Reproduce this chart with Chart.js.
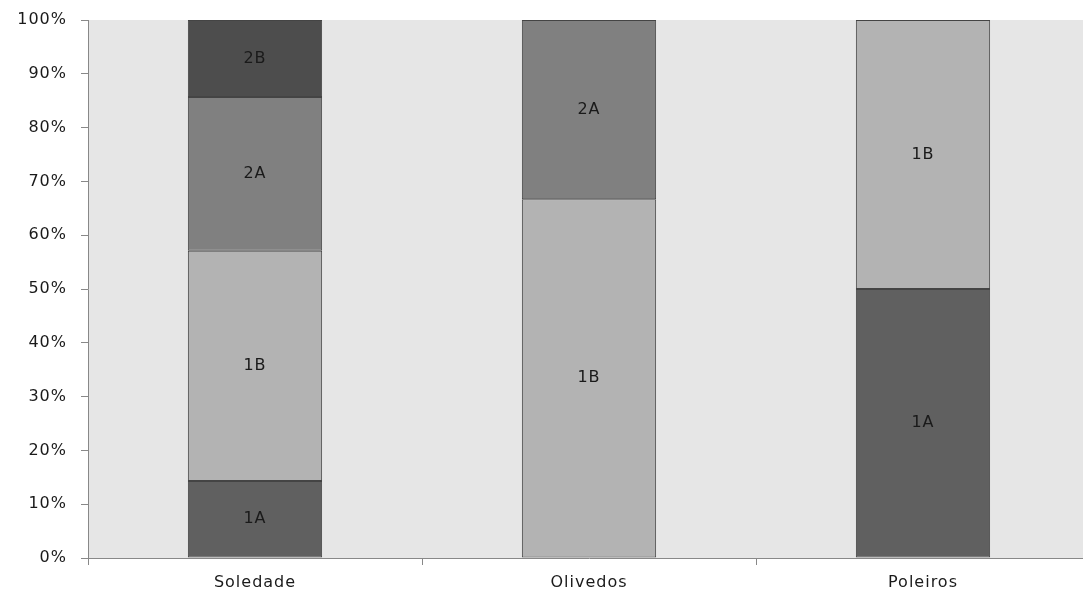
<!DOCTYPE html>
<html>
<head>
<meta charset="utf-8">
<script src="https://cdn.jsdelivr.net/npm/chart.js@4/dist/chart.umd.min.js"></script>
<style>
  html, body { margin: 0; padding: 0; background: #ffffff; overflow: hidden; }
  #wrap { width: 1083px; height: 598px; position: relative; overflow: hidden; }
</style>
</head>
<body>
<div id="wrap"><canvas id="chart" width="1090" height="598"></canvas></div>
<script>
// ========================
// DATA
// ========================
const categories = ["Soledade", "Olivedos", "Poleiros"];
const series1A = [14.3, 0, 50];
const series1B = [42.8, 66.7, 50];
const series2A = [28.6, 33.3, 0];
const series2B = [14.3, 0, 0];
const yTicks = [0, 10, 20, 30, 40, 50, 60, 70, 80, 90, 100];

const FONT = "'DejaVu Sans', 'Liberation Sans', sans-serif";

// grey plot background + wider letter spacing for all text
const plotBackground = {
    id: "plotBackground",
    beforeInit(chart) {
        chart.ctx.letterSpacing = "1px";
    },
    beforeDraw(chart) {
        const { ctx, chartArea } = chart;
        ctx.letterSpacing = "1px";
        ctx.save();
        ctx.fillStyle = "#e6e6e6";
        ctx.fillRect(chartArea.left, chartArea.top, chartArea.right - chartArea.left, chartArea.bottom - chartArea.top);
        ctx.restore();
    }
};

// series name written in the middle of each segment
const segmentLabels = {
    id: "segmentLabels",
    afterDatasetsDraw(chart) {
        const ctx = chart.ctx;
        ctx.save();
        ctx.font = "16px " + FONT;
        ctx.fillStyle = "#1a1a1a";
        ctx.textAlign = "center";
        ctx.textBaseline = "middle";
        chart.data.datasets.forEach((ds, i) => {
            chart.getDatasetMeta(i).data.forEach((bar, j) => {
                if (!ds.data[j]) return;
                const y = (bar.y + bar.base) / 2;
                ctx.fillText(ds.label, bar.x, y);
            });
        });
        ctx.restore();
    }
};

function dataset(label, data, color) {
    return {
        label: label,
        data: data,
        backgroundColor: color,
        borderColor: "#444444",
        borderWidth: 1,
        borderSkipped: false,
        categoryPercentage: 1,
        barPercentage: 0.402
    };
}

new Chart(document.getElementById("chart"), {
    type: "bar",
    data: {
        labels: categories,
        datasets: [
            dataset("1A", series1A, "#606060"),
            dataset("1B", series1B, "#b3b3b3"),
            dataset("2A", series2A, "#808080"),
            dataset("2B", series2B, "#4d4d4d")
        ]
    },
    options: {
        responsive: false,
        animation: false,
        layout: { padding: { top: 20, right: 0, bottom: 0, left: 0 } },
        plugins: {
            legend: { display: false },
            tooltip: { enabled: false }
        },
        scales: {
            x: {
                stacked: true,
                offset: true,
                grid: {
                    offset: true,
                    drawOnChartArea: false,
                    tickLength: 7,
                    color: "#888888"
                },
                border: { color: "#888888", width: 1 },
                ticks: {
                    color: "#1a1a1a",
                    font: { family: FONT, size: 16 },
                    padding: 8
                },
                afterFit(scale) { scale.height = 40; }
            },
            y: {
                stacked: true,
                min: 0,
                max: 100,
                afterBuildTicks(scale) {
                    scale.ticks = yTicks.map(v => ({ value: v }));
                },
                grid: {
                    drawOnChartArea: false,
                    tickLength: 7,
                    color: "#888888"
                },
                border: { color: "#888888", width: 1 },
                ticks: {
                    color: "#1a1a1a",
                    font: { family: FONT, size: 16 },
                    padding: 14,
                    callback: v => v + "%"
                },
                afterFit(scale) {
                    scale.width = 88;
                    scale.paddingTop = 0;
                    scale.paddingBottom = 0;
                }
            }
        }
    },
    plugins: [plotBackground, segmentLabels]
});
</script>
</body>
</html>
